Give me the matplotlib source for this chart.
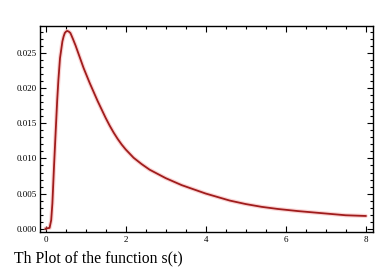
import matplotlib
matplotlib.use("Agg")
import matplotlib.pyplot as plt
from matplotlib.ticker import MultipleLocator, FormatStrFormatter

t_values = [0.0, 0.10, 0.14, 0.17, 0.21, 0.25, 0.29, 0.32, 0.36, 0.42, 0.45, 0.48,
            0.51, 0.54, 0.58, 0.62, 0.68, 0.75, 0.80, 0.85, 0.90, 0.95, 1.0,
            1.1, 1.2, 1.3, 1.4, 1.5, 1.6, 1.7, 1.8, 1.9, 2.0, 2.2, 2.4, 2.6, 2.8,
            3.0, 3.2, 3.4, 3.7, 4.0, 4.3, 4.6, 5.0, 5.4, 5.8, 6.3, 6.7, 7.1, 7.5, 8.0]
s_values = [0.0, 0.0001, 0.0012, 0.0036, 0.0088, 0.0136, 0.0183, 0.0212, 0.0243,
            0.0267, 0.0274, 0.0279, 0.0281, 0.0282, 0.0281, 0.0279, 0.0271, 0.0261,
            0.0253, 0.0245, 0.0237, 0.0229, 0.0222,
            0.0208, 0.0195, 0.0182, 0.0170, 0.0158, 0.0147, 0.0137, 0.0128, 0.0120,
            0.0113, 0.0101, 0.0092, 0.0084, 0.0078,
            0.0072, 0.0067, 0.0062, 0.0056, 0.0050, 0.0045, 0.0040, 0.0035, 0.0031,
            0.0028, 0.0025, 0.0023, 0.0021, 0.0019, 0.0018]
caption = "Th Plot of the function s(t)"

fig = plt.figure(figsize=(3.79, 2.68), dpi=100)
ax = fig.add_axes([0.1055, 0.134, 0.8785, 0.769])

ax.plot(t_values, s_values, color="#f4a0a0", lw=3.0, alpha=0.45,
        solid_capstyle="round", solid_joinstyle="round")
ax.plot(t_values, s_values, color="#a01c1c", lw=1.3, solid_joinstyle="round")

ax.set_xlim(-0.14, 8.18)
ax.set_ylim(-0.0005, 0.0289)

ax.xaxis.set_major_locator(MultipleLocator(2))
ax.xaxis.set_minor_locator(MultipleLocator(0.5))
ax.yaxis.set_major_locator(MultipleLocator(0.005))
ax.yaxis.set_minor_locator(MultipleLocator(0.001))
ax.yaxis.set_major_formatter(FormatStrFormatter("%.3f"))
ax.xaxis.set_major_formatter(FormatStrFormatter("%d"))

ax.tick_params(which="both", direction="in", top=True, right=True, width=0.8,
               labelsize=6.5, pad=2.5)
ax.tick_params(which="major", length=4)
ax.tick_params(which="minor", length=2)
for lab in ax.get_xticklabels() + ax.get_yticklabels():
    lab.set_family("Liberation Serif")
for sp in ax.spines.values():
    sp.set_linewidth(1.0)

fig.text(14 / 379, 1 - 262 / 268, caption, family="Liberation Serif",
         fontsize=11.3, ha="left", va="baseline")

fig.savefig("out.png", dpi=100)
